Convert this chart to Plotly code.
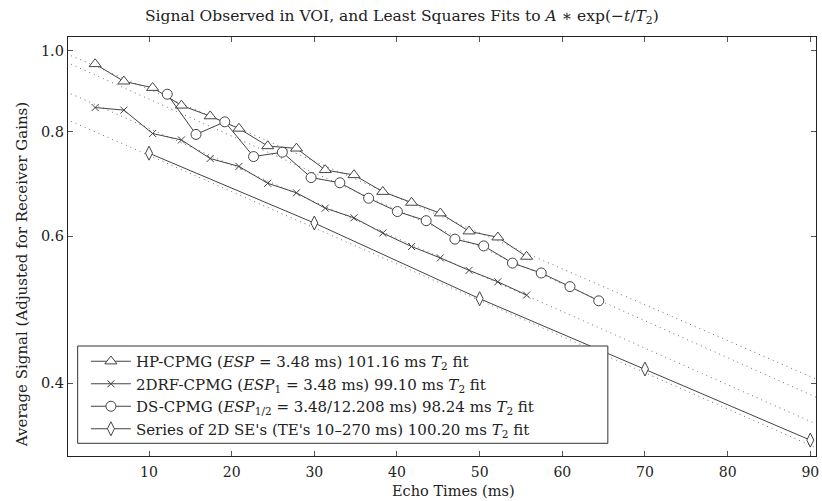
import math
import plotly.graph_objects as go

# ---- data ----
hp_t = [3.48, 6.96, 10.44, 13.92, 17.40, 20.88, 24.36, 27.84, 31.32, 34.80,
        38.28, 41.76, 45.24, 48.72, 52.20, 55.68]
hp_v = [0.964, 0.919, 0.903, 0.860, 0.835, 0.807, 0.769, 0.764, 0.720, 0.710,
        0.678, 0.658, 0.639, 0.608, 0.598, 0.567]

rf_t = [3.48, 6.96, 10.44, 13.92, 17.40, 20.88, 24.36, 27.84, 31.32, 34.80,
        38.28, 41.76, 45.24, 48.72, 52.20, 55.68]
rf_v = [0.855, 0.849, 0.796, 0.782, 0.743, 0.727, 0.694, 0.676, 0.648, 0.631,
        0.605, 0.583, 0.565, 0.546, 0.529, 0.510]

ds_t = [12.208, 15.688, 19.168, 22.648, 26.128, 29.608, 33.088, 36.568, 40.048,
        43.528, 47.008, 50.488, 53.968, 57.448, 60.928, 64.408]
ds_v = [0.887, 0.794, 0.822, 0.747, 0.756, 0.705, 0.695, 0.666, 0.642, 0.626,
        0.595, 0.584, 0.557, 0.542, 0.522, 0.502]

se_t = [10, 30, 50, 70, 90]
se_v = [0.754, 0.622, 0.505, 0.416, 0.342]

# least-squares fit parameters A * exp(-t / T2)
fit_A = [0.992, 0.893, 0.969, 0.828]
fit_T2 = [101.16, 99.10, 98.24, 100.20]
fit_t_span = [0.0, 92.0]

labels = [
    "HP-CPMG (<i>ESP</i> = 3.48 ms) 101.16 ms <i>T</i><sub>2</sub> fit",
    "2DRF-CPMG (<i>ESP</i><sub>1</sub> = 3.48 ms) 99.10 ms <i>T</i><sub>2</sub> fit",
    "DS-CPMG (<i>ESP</i><sub>1/2</sub> = 3.48/12.208 ms) 98.24 ms <i>T</i><sub>2</sub> fit",
    "Series of 2D SE's (TE's 10\u2013270 ms) 100.20 ms <i>T</i><sub>2</sub> fit",
]

x_ticks = [10, 20, 30, 40, 50, 60, 70, 80, 90]
y_ticks = [0.4, 0.6, 0.8, 1.0]
y_ticktext = ["0.4", "0.6", "0.8", "1.0"]

FONT = "DejaVu Serif"
LC = "#444444"
PW = 751.0   # plot width in px
PH = 419.0   # plot height in px
L, B = 68.0, 456.0  # plot left / bottom in px


def px_x(p):
    return (p - L) / PW


def px_y(p):
    return (B - p) / PH


fig = go.Figure()

# dotted fit lines
for A, T2 in zip(fit_A, fit_T2):
    fig.add_trace(go.Scatter(
        x=fit_t_span, y=[A * math.exp(-t / T2) for t in fit_t_span],
        mode="lines", line=dict(color="#707070", width=1, dash="1px,4px"),
        showlegend=False, hoverinfo="skip"))

series = [
    (hp_t, hp_v, "triangle-up", 10.5),
    (rf_t, rf_v, "x-thin", 7),
    (ds_t, ds_v, "circle", 10),
    (se_t, se_v, "diamond-tall", 10),
]
for (t, v, sym, sz), lab in zip(series, labels):
    fig.add_trace(go.Scatter(
        x=t, y=v, mode="lines+markers", name=lab,
        line=dict(color=LC, width=1),
        marker=dict(symbol=sym, size=sz, color="white",
                    line=dict(color=LC, width=1))))

fig.update_layout(
    width=822, height=501,
    margin=dict(l=68, r=3, t=37, b=45),
    paper_bgcolor="white", plot_bgcolor="white",
    font=dict(family=FONT, size=15, color="#222"),
    showlegend=True,
    legend=dict(x=px_x(86), xanchor="left", y=px_y(345), yanchor="top",
                bgcolor="rgba(0,0,0,0)", borderwidth=0,
                font=dict(family=FONT, size=15, color="#222"),
                itemwidth=40, tracegroupgap=0),
    shapes=[dict(type="rect", xref="paper", yref="paper",
                 x0=px_x(77.7), x1=px_x(610), y0=px_y(443.3), y1=px_y(346),
                 line=dict(color="#333", width=1), fillcolor="white",
                 layer="above")],
    xaxis=dict(range=[0.2, 90.69], tickvals=x_ticks,
               ticks="inside", ticklen=5, tickcolor="#555",
               tickfont=dict(family=FONT, size=14),
               ticklabeloverflow="allow", ticklabelstandoff=3,
               showline=True, linecolor="#222", linewidth=1.3, mirror="ticks",
               showgrid=False, zeroline=False),
    yaxis=dict(type="log", range=[-0.48498, 0.01639],
               tickvals=y_ticks, ticktext=y_ticktext,
               ticks="inside", ticklen=5, tickcolor="#555",
               tickfont=dict(family=FONT, size=14.5),
               ticklabeloverflow="allow",
               showline=True, linecolor="#222", linewidth=1.3, mirror="ticks",
               showgrid=False, zeroline=False),
    annotations=[
        dict(text="Average Signal (Adjusted for Receiver Gains)",
             xref="paper", yref="paper", x=px_x(22), y=px_y(250),
             yshift=-25, xanchor="center", yanchor="middle", textangle=-90,
             showarrow=False, font=dict(family=FONT, size=15, color="#222")),
        dict(text="Echo Times (ms)",
             xref="paper", yref="paper", x=px_x(455), y=px_y(501),
             xanchor="center", yanchor="bottom",
             showarrow=False, font=dict(family=FONT, size=14.5, color="#222")),
        dict(text="Signal Observed in VOI, and Least Squares Fits to <i>A</i> \u2217 exp(\u2212<i>t</i>/<i>T</i><sub>2</sub>)",
             xref="paper", yref="paper", x=px_x(143), y=1.0,
             yshift=8, xanchor="left", yanchor="bottom",
             showarrow=False, font=dict(family=FONT, size=15.5, color="#222")),
    ],
)

fig.write_html("out.html")
